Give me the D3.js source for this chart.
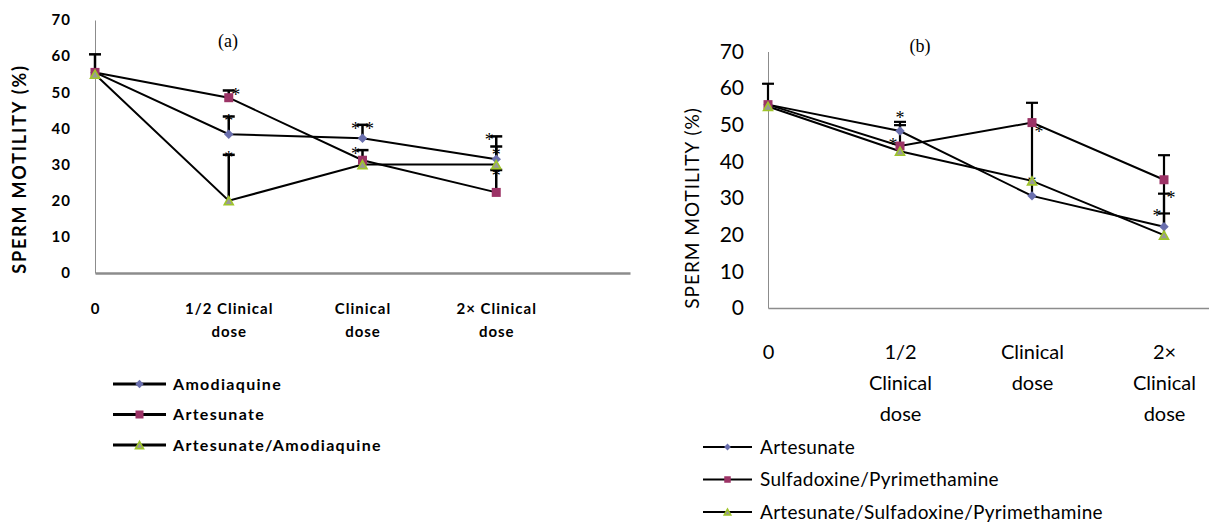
<!DOCTYPE html>
<html>
<head>
<meta charset="utf-8">
<script src="https://cdn.jsdelivr.net/npm/d3@7"></script>
<style>
  body { margin: 0; background: #fff; }
  svg { display: block; }
</style>
</head>
<body>
<div class="grafico"></div>
<script>
// categorias do eixo x
var doses = ["0", "half", "clinical", "double"];
var ticksA = [["0"], ["1/2 Clinical", "dose"], ["Clinical", "dose"], ["2\u00d7 Clinical", "dose"]];
var ticksB = [["0"], ["1/2", "Clinical", "dose"], ["Clinical", "dose"], ["2\u00d7", "Clinical", "dose"]];
var yTicks = [0, 10, 20, 30, 40, 50, 60, 70];

// painel (a)
var namesA = ["Amodiaquine", "Artesunate", "Artesunate/Amodiaquine"];
var amodiaquineA = [55.5, 38.4, 37.3, 31.5];
var artesunateA = [55.5, 48.5, 31.2, 22.3];
var artAmodA = [55, 20, 30, 30];
// topo das barras de erro (null = sem barra)
var amodiaquineErrA = [null, 43.3, 41, 35];
var artesunateErrA = [60.5, 50.5, 34, 37.8];
var artAmodErrA = [null, 32.7, null, 28.5];
// asteriscos: [categoria, valor, lado]
var starsA = [[1, 50.3, "r"], [1, 43.2, "c"], [1, 33, "c"], [2, 41, "l"], [2, 41, "r"],
              [2, 34, "l"], [3, 38, "l"], [3, 33.7, "c"], [3, 28, "c"]];

// painel (b)
var namesB = ["Artesunate", "Sulfadoxine/Pyrimethamine", "Artesunate/Sulfadoxine/Pyrimethamine"];
var artesunateB = [55.5, 48.3, 30.6, 22.2];
var spB = [55.5, 44.2, 50.6, 35];
var aspB = [55, 42.8, 34.7, 19.9];
var artesunateErrB = [61.2, 50.8, null, 25.8];
var spErrB = [null, 49.9, 56, 41.7];
var spLowB = [null, null, 30.6, 22.2];
var aspErrB = [null, null, null, 31.2];
var starsB = [[1, 53, "c"], [1, 45.6, "l"], [2, 49.2, "r"], [2, 35.2, "c"], [3, 31, "r"], [3, 26.3, "l"]];

var cores = { diamond: "#6a6fae", square: "#9c3366", tri: "#9fc52a" };

var width = 1209, height = 526;
var svg = d3.select(".grafico").append("svg")
  .attr("width", width).attr("height", height)
  .style("background", "#fff");

function marker(g, tipo, cx, cy, s) {
  if (tipo == "diamond") {
    g.append("path")
      .attr("d", d3.symbol(d3.symbolSquare, s * s * 0.55)())
      .attr("transform", "translate(" + cx + "," + cy + ") rotate(45)")
      .attr("fill", cores.diamond);
  } else if (tipo == "square") {
    g.append("rect")
      .attr("x", cx - s / 2).attr("y", cy - s / 2)
      .attr("width", s).attr("height", s)
      .attr("fill", cores.square);
  } else {
    var h = s * 0.9;
    g.append("path")
      .attr("d", "M" + cx + "," + (cy - h / 2) + "L" + (cx + s / 2) + "," + (cy + h / 2) + "L" + (cx - s / 2) + "," + (cy + h / 2) + "Z")
      .attr("fill", "#999").attr("stroke", cores.tri).attr("stroke-width", 1.6);
  }
}

function painel(cfg) {
  var g = svg.append("g");
  var x = d3.scalePoint().domain(doses.concat(["fim"])).range(cfg.xr);
  var y = d3.scaleLinear().domain([0, 70]).range(cfg.yr);

  // eixo y
  var yAxis = g.append("g")
    .attr("transform", "translate(" + cfg.xr[0] + ",0)")
    .call(d3.axisLeft(y).tickValues(yTicks).tickSize(0).tickSizeOuter(0).tickPadding(cfg.yPad));
  yAxis.select(".domain").attr("stroke", "#8c8c8c").attr("stroke-width", 1);
  yAxis.selectAll("text")
    .attr("font-family", cfg.font).attr("font-weight", cfg.weight)
    .attr("font-size", cfg.yFs).attr("fill", "#000")
    .attr("letter-spacing", cfg.ls);

  // eixo x
  var xAxis = g.append("g")
    .attr("transform", "translate(0," + cfg.yr[0] + ")")
    .call(d3.axisBottom(x).tickValues(doses).tickSize(0).tickSizeOuter(0).tickFormat(""));
  xAxis.select(".domain").attr("stroke", "#8c8c8c").attr("stroke-width", cfg.xAxisW);
  xAxis.selectAll(".tick").each(function(d, i) {
    var t = d3.select(this).append("text")
      .attr("text-anchor", "middle").attr("fill", "#000")
      .attr("font-family", cfg.font).attr("font-weight", cfg.weight)
      .attr("font-size", cfg.xFs).attr("letter-spacing", cfg.ls);
    cfg.ticks[i].forEach(function(l, k) {
      t.append("tspan").attr("x", 0).attr("y", cfg.xLab0 + k * cfg.xLine).text(l);
    });
  });

  // título do eixo y
  g.append("text")
    .attr("transform", "translate(" + cfg.yTitleX + "," + cfg.yTitleY + ") rotate(-90)")
    .attr("text-anchor", "middle")
    .attr("font-family", cfg.font).attr("font-weight", cfg.weight)
    .attr("font-size", cfg.yTitleFs).attr("letter-spacing", cfg.yTitleLs)
    .text("SPERM MOTILITY (%)");

  // rótulo (a)/(b)
  g.append("text")
    .attr("x", cfg.tagX).attr("y", cfg.tagY)
    .attr("text-anchor", "middle")
    .attr("font-family", "Liberation Serif").attr("font-size", cfg.tagFs)
    .text(cfg.tag);

  // linhas
  var linha = d3.line()
    .x(function(d, i) { return x(doses[i]); })
    .y(function(d) { return y(d); });
  cfg.series.forEach(function(s) {
    g.append("path").datum(s.v)
      .attr("d", linha).attr("fill", "none")
      .attr("stroke", "#000").attr("stroke-width", cfg.lineW);
  });

  // barras de erro
  var cap = cfg.cap;
  function barra(i, de, ate, comCap) {
    var cx = x(doses[i]);
    g.append("line")
      .attr("x1", cx).attr("x2", cx).attr("y1", y(de)).attr("y2", y(ate))
      .attr("stroke", "#000").attr("stroke-width", cfg.errW);
    if (comCap) {
      g.append("line")
        .attr("x1", cx - cap).attr("x2", cx + cap).attr("y1", y(ate)).attr("y2", y(ate))
        .attr("stroke", "#000").attr("stroke-width", cfg.errW);
    }
  }
  cfg.series.forEach(function(s) {
    s.err.forEach(function(e, i) { if (e != null) barra(i, s.v[i], e, true); });
    if (s.low) s.low.forEach(function(e, i) { if (e != null) barra(i, s.v[i], e, false); });
  });

  // asteriscos
  cfg.stars.forEach(function(st) {
    var dx = st[2] == "l" ? -cfg.starDx : st[2] == "r" ? cfg.starDx : 0;
    g.append("text")
      .attr("x", x(doses[st[0]]) + dx).attr("y", y(st[1]) + cfg.starFs * 0.55)
      .attr("text-anchor", "middle")
      .attr("font-family", "Liberation Serif").attr("font-size", cfg.starFs)
      .text("*");
  });

  // marcadores
  cfg.series.forEach(function(s) {
    s.v.forEach(function(v, i) { marker(g, s.tipo, x(doses[i]), y(v), cfg.mk); });
  });

  // legenda
  cfg.series.forEach(function(s, k) {
    var ly = cfg.legY + k * cfg.legStep;
    g.append("line")
      .attr("x1", cfg.legX[0]).attr("x2", cfg.legX[1]).attr("y1", ly).attr("y2", ly)
      .attr("stroke", "#000").attr("stroke-width", cfg.legW);
    marker(g, s.tipo, (cfg.legX[0] + cfg.legX[1]) / 2, ly, cfg.legMk);
    g.append("text")
      .attr("x", cfg.legX[1] + cfg.legGap).attr("y", ly)
      .attr("dy", "0.35em")
      .attr("font-family", cfg.font).attr("font-weight", cfg.weight)
      .attr("font-size", cfg.legFs).attr("letter-spacing", cfg.legLs)
      .text(s.name);
  });
}

painel({
  xr: [95, 630], yr: [273, 20],
  font: "Lato", weight: "bold", ls: "1px",
  yFs: 15, yPad: 24, xFs: 15, xLab0: 41, xLine: 23, xAxisW: 2.5,
  ticks: ticksA,
  yTitleX: 26, yTitleY: 169, yTitleFs: 18, yTitleLs: "1.8px",
  tag: "(a)", tagX: 228, tagY: 47, tagFs: 18,
  lineW: 2, errW: 2.5, cap: 6, mk: 9,
  starDx: 7, starFs: 18,
  series: [
    { name: namesA[0], v: amodiaquineA, err: amodiaquineErrA, tipo: "diamond" },
    { name: namesA[1], v: artesunateA, err: artesunateErrA, tipo: "square" },
    { name: namesA[2], v: artAmodA, err: artAmodErrA, tipo: "tri" }
  ],
  stars: starsA,
  legX: [113, 166], legY: 384, legStep: 30.5, legW: 3, legMk: 8, legGap: 7, legFs: 16, legLs: "1.3px"
});

painel({
  xr: [768, 1296], yr: [308, 51.5],
  font: "Lato", weight: "normal", ls: "0px",
  yFs: 21, yPad: 24, xFs: 20, xLab0: 51, xLine: 31, xAxisW: 1.5,
  ticks: ticksB,
  yTitleX: 699, yTitleY: 208, yTitleFs: 19, yTitleLs: "1px",
  tag: "(b)", tagX: 920, tagY: 52, tagFs: 18,
  lineW: 2, errW: 2.2, cap: 6, mk: 9,
  starDx: 7, starFs: 18,
  series: [
    { name: namesB[0], v: artesunateB, err: artesunateErrB, tipo: "diamond" },
    { name: namesB[1], v: spB, err: spErrB, low: spLowB, tipo: "square" },
    { name: namesB[2], v: aspB, err: aspErrB, tipo: "tri" }
  ],
  stars: starsB,
  legX: [703, 752], legY: 447, legStep: 32.5, legW: 2, legMk: 6.5, legGap: 8, legFs: 19, legLs: "0.3px"
});
</script>
</body>
</html>
